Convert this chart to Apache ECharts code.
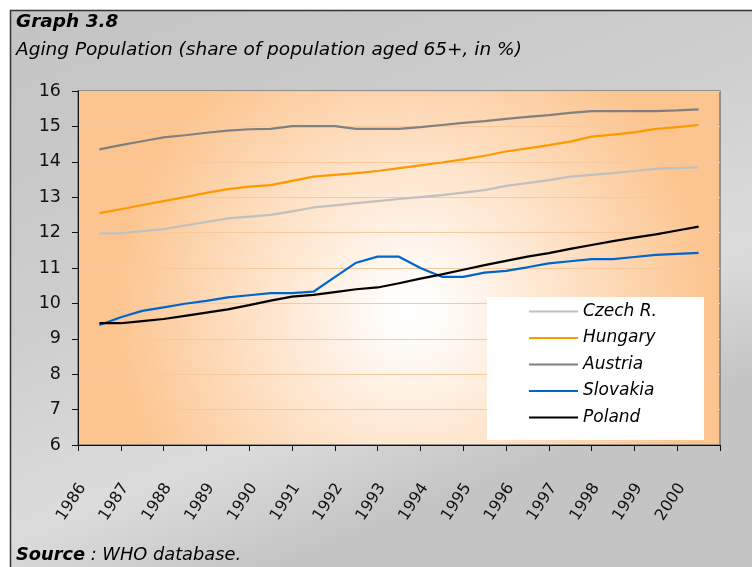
<!DOCTYPE html>
<html>
<head>
<meta charset="utf-8">
<script src="https://cdn.jsdelivr.net/npm/echarts@6/dist/echarts.min.js"></script>
<style>
  html, body { margin: 0; padding: 0; background: #fff; }
  #main { width: 752px; height: 567px; }
</style>
</head>
<body>
<div id="main"></div>
<script>
// category labels on the axis
let years = ['1986', '1987', '1988', '1989', '1990', '1991', '1992', '1993',
  '1994', '1995', '1996', '1997', '1998', '1999', '2000'];
// readings are taken every half year
let halfYears = [1986, 1986.5, 1987, 1987.5, 1988, 1988.5, 1989, 1989.5, 1990, 1990.5,
  1991, 1991.5, 1992, 1992.5, 1993, 1993.5, 1994, 1994.5, 1995, 1995.5,
  1996, 1996.5, 1997, 1997.5, 1998, 1998.5, 1999, 1999.5, 2000];

let czech = [11.98, 11.98, 12.04, 12.10, 12.20, 12.30, 12.40, 12.45, 12.50, 12.60,
  12.71, 12.77, 12.83, 12.89, 12.95, 13.00, 13.06, 13.13, 13.20, 13.32,
  13.40, 13.48, 13.58, 13.63, 13.68, 13.74, 13.80, 13.82, 13.84];
let hungary = [12.55, 12.66, 12.78, 12.89, 13.00, 13.12, 13.23, 13.30, 13.34, 13.46,
  13.58, 13.63, 13.68, 13.74, 13.82, 13.90, 13.98, 14.07, 14.17, 14.29,
  14.38, 14.47, 14.57, 14.71, 14.77, 14.83, 14.93, 14.98, 15.04];
let austria = [14.35, 14.47, 14.58, 14.69, 14.75, 14.82, 14.88, 14.92, 14.93, 15.01,
  15.01, 15.01, 14.93, 14.93, 14.93, 14.98, 15.04, 15.10, 15.15, 15.21,
  15.27, 15.32, 15.38, 15.43, 15.43, 15.43, 15.43, 15.45, 15.48];
let slovakia = [9.39, 9.61, 9.79, 9.89, 9.99, 10.07, 10.17, 10.23, 10.29, 10.29,
  10.33, 10.74, 11.15, 11.32, 11.32, 11.00, 10.75, 10.75, 10.87, 10.92,
  11.02, 11.13, 11.19, 11.25, 11.25, 11.31, 11.37, 11.40, 11.43];
let poland = [9.44, 9.44, 9.50, 9.56, 9.65, 9.74, 9.83, 9.95, 10.08, 10.19,
  10.24, 10.32, 10.40, 10.45, 10.57, 10.70, 10.82, 10.95, 11.08, 11.20,
  11.32, 11.42, 11.54, 11.65, 11.76, 11.86, 11.95, 12.06, 12.17];

let font = 'DejaVu Sans';

function pairs(values) {
  return halfYears.map(function (x, i) { return [x, values[i]]; });
}

function lineSeries(name, values, color) {
  return {
    name: name,
    type: 'line',
    xAxisIndex: 1,
    data: pairs(values),
    symbol: 'none',
    smooth: false,
    lineStyle: { color: color, width: 2.2 },
    itemStyle: { color: color },
    emphasis: { disabled: true }
  };
}

let chart = echarts.init(document.getElementById('main'), null, { renderer: 'canvas' });

let option = {
  backgroundColor: '#ffffff',
  animation: false,
  textStyle: { fontFamily: font },
  graphic: [
    {
      type: 'rect',
      z: -10,
      shape: { x: 10.5, y: 10.5, width: 760, height: 570 },
      style: {
        fill: {
          type: 'linear', x: 0, y: 0, x2: 0.3, y2: 1,
          colorStops: [
            { offset: 0, color: '#c3c3c3' },
            { offset: 0.5, color: '#cecece' },
            { offset: 0.8, color: '#dcdcdc' },
            { offset: 1, color: '#c4c4c4' }
          ]
        },
        stroke: '#333333',
        lineWidth: 1.5
      }
    },
    {
      type: 'rect',
      z: 3,
      shape: { x: 487, y: 297, width: 217, height: 143 },
      style: { fill: '#ffffff' }
    }
  ],
  title: [
    {
      text: 'Graph 3.8',
      left: 16, top: 13, padding: 0,
      textStyle: { fontFamily: font, fontSize: 18.5, fontWeight: 'bold', fontStyle: 'italic', color: '#000' }
    },
    {
      text: 'Aging Population (share of population aged 65+, in %)',
      left: 16, top: 41, padding: 0,
      textStyle: { fontFamily: font, fontSize: 18.5, fontWeight: 'normal', fontStyle: 'italic', color: '#000' }
    },
    {
      text: '{b|Source} : WHO database.',
      left: 16, top: 546, padding: 0,
      textStyle: {
        fontFamily: font, fontSize: 17.8, fontWeight: 'normal', fontStyle: 'italic', color: '#000',
        rich: {
          b: { fontFamily: font, fontSize: 17.8, fontWeight: 'bold', fontStyle: 'italic', color: '#000' }
        }
      }
    }
  ],
  legend: {
    orient: 'vertical',
    left: 528, top: 303,
    padding: 0,
    itemWidth: 49,
    itemHeight: 20,
    itemGap: 9.5,
    z: 4,
    itemStyle: { opacity: 0 },
    textStyle: { fontFamily: font, fontSize: 17, fontStyle: 'italic', color: '#000' },
    data: ['Czech R.', 'Hungary', 'Austria', 'Slovakia', 'Poland']
  },
  grid: {
    left: 78, top: 91, right: 32, bottom: 122,
    show: true,
    borderColor: '#7a7a7a',
    borderWidth: 1.5,
    backgroundColor: {
      type: 'radial', x: 0.52, y: 0.62, r: 0.85,
      colorStops: [
        { offset: 0, color: '#ffffff' },
        { offset: 0.1, color: '#fffcf9' },
        { offset: 1, color: '#fcc48e' }
      ]
    }
  },
  xAxis: [
    {
      type: 'category',
      data: years,
      boundaryGap: true,
      axisLine: { show: true, lineStyle: { color: '#111', width: 1 } },
      axisTick: { show: true, inside: false, length: 6, alignWithLabel: false, lineStyle: { color: '#111' } },
      axisLabel: {
        interval: 0,
        rotate: 57,
        margin: 14,
        padding: [0, 31, 0, 0],
        fontFamily: font,
        fontSize: 16,
        color: '#111'
      },
      splitLine: { show: false }
    },
    {
      type: 'value',
      min: 1985.5,
      max: 2000.5,
      show: false,
      splitLine: { show: false }
    }
  ],
  yAxis: {
    type: 'value',
    min: 6,
    max: 16,
    interval: 1,
    axisLine: { show: true, lineStyle: { color: '#111', width: 1 } },
    axisTick: { show: true, inside: false, length: 6, lineStyle: { color: '#111' } },
    axisLabel: { margin: 17, fontFamily: font, fontSize: 17.5, color: '#111' },
    splitLine: { show: true, lineStyle: { color: '#f7c99c', width: 1 } }
  },
  series: [
    lineSeries('Czech R.', czech, '#c0c0c0'),
    lineSeries('Hungary', hungary, '#ff9900'),
    lineSeries('Austria', austria, '#808080'),
    lineSeries('Slovakia', slovakia, '#0066cc'),
    lineSeries('Poland', poland, '#000000')
  ]
};

chart.setOption(option);
</script>
</body>
</html>
